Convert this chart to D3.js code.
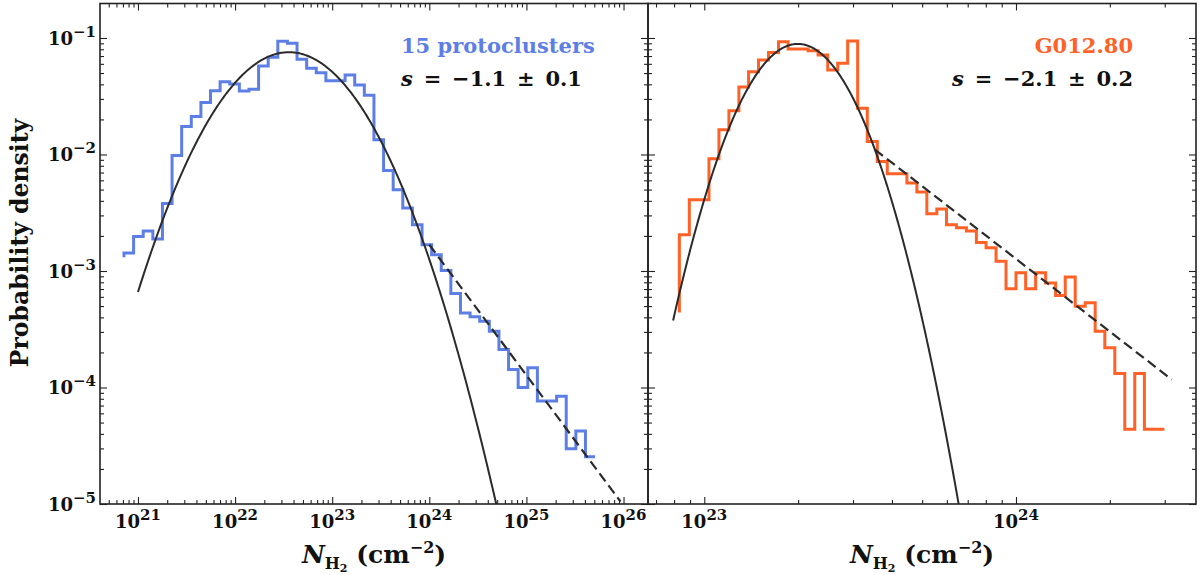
<!DOCTYPE html>
<html>
<head>
<meta charset="utf-8">
<script src="https://cdn.jsdelivr.net/npm/d3@7"></script>
<style>
  body { margin: 0; background: #fff; }
  svg { display: block; }
  text { font-family: "DejaVu Serif", serif; font-weight: bold; fill: #111; }
</style>
</head>
<body>
<div id="chart"></div>
<script>
// ── Data ──────────────────────────────────────────────────────────────────────
// histogram bin edges, log10 N(H2) [cm^-2]; drawn as 'pre' steps, so the first
// density is the level the outline starts from at the first edge
const leftEdgesLog = [
  20.856, 20.955, 21.054, 21.153, 21.252, 21.351, 21.450, 21.549, 21.648, 21.747,
  21.846, 21.945, 22.044, 22.143, 22.242, 22.341, 22.440, 22.539, 22.638, 22.737,
  22.836, 22.935, 23.034, 23.133, 23.232, 23.331, 23.430, 23.529, 23.628, 23.727,
  23.826, 23.925, 24.024, 24.123, 24.222, 24.321, 24.420, 24.519, 24.618, 24.717,
  24.816, 24.915, 25.014, 25.113, 25.212, 25.311, 25.410, 25.509, 25.608, 25.707
];
const leftDensity = [
  1.31e-3,
  1.43e-3, 1.98e-3, 2.20e-3, 1.88e-3, 3.80e-3, 9.80e-3, 1.74e-2, 2.12e-2, 2.79e-2, 3.53e-2,
  4.22e-2, 4.03e-2, 3.51e-2, 3.63e-2, 5.75e-2, 6.84e-2, 9.37e-2, 9.00e-2, 6.56e-2, 5.50e-2,
  5.04e-2, 4.30e-2, 4.30e-2, 4.82e-2, 3.95e-2, 3.23e-2, 1.34e-2, 7.30e-3, 4.99e-3, 3.47e-3,
  2.50e-3, 1.68e-3, 1.38e-3, 1.01e-3, 6.40e-4, 4.37e-4, 4.04e-4, 3.70e-4, 3.04e-4, 2.12e-4,
  1.43e-4, 1.00e-4, 1.48e-4, 7.65e-5, 7.65e-5, 8.40e-5, 2.98e-5, 4.23e-5, 2.55e-5
];
const rightEdgesLog = [
  22.920, 22.952, 22.984, 23.015, 23.047, 23.079, 23.111, 23.142, 23.174, 23.206,
  23.238, 23.269, 23.301, 23.333, 23.365, 23.396, 23.428, 23.460, 23.492, 23.523,
  23.555, 23.587, 23.619, 23.650, 23.682, 23.714, 23.746, 23.777, 23.809, 23.841,
  23.873, 23.904, 23.936, 23.968, 24.000, 24.031, 24.063, 24.095, 24.127, 24.158,
  24.190, 24.222, 24.254, 24.285, 24.317, 24.349, 24.381, 24.412, 24.444, 24.476
];
const rightDensity = [
  4.40e-4,
  2.05e-3, 4.09e-3, 4.09e-3, 9.18e-3, 1.63e-2, 2.37e-2, 3.80e-2, 5.14e-2, 6.48e-2, 7.50e-2,
  9.30e-2, 8.05e-2, 8.05e-2, 7.78e-2, 7.15e-2, 5.32e-2, 6.07e-2, 9.40e-2, 2.50e-2, 1.29e-2,
  8.70e-3, 6.84e-3, 6.84e-3, 5.69e-3, 4.77e-3, 3.10e-3, 3.40e-3, 2.50e-3, 2.35e-3, 2.20e-3,
  1.76e-3, 1.58e-3, 1.21e-3, 7.03e-4, 9.64e-4, 7.03e-4, 9.64e-4, 7.90e-4, 6.15e-4, 8.90e-4,
  4.99e-4, 5.33e-4, 3.04e-4, 2.19e-4, 1.32e-4, 4.38e-5, 1.32e-4, 4.38e-5, 4.38e-5
];

// log-normal fits: [peak density, mean log10 N, sigma (dex), from log N, to log N]
const leftFit = [0.0755, 22.555, 0.505, 21.0, 24.75];
const rightFit = [0.0889, 23.30, 0.121, 22.90, 23.86];

// power-law tails (dashed), end points
const leftTailN = [1.0e24, 9.3e25];
const leftTailP = [1.68e-3, 1.05e-5];
const rightTailN = [3.53e23, 3.16e24];
const rightTailP = [1.10e-2, 1.17e-4];

const leftXTickExp = [21, 22, 23, 24, 25, 26];
const rightXTickExp = [23, 24];
const yTickExp = [-5, -4, -3, -2, -1];

const sampleNames = ['15 protoclusters', 'G012.80'];
const slopeTexts = ['\u22121.1 \u00b1 0.1', '\u22122.1 \u00b1 0.2'];

// ── SVG setup ─────────────────────────────────────────────────────────────────
const width = 1200, height = 575;
const plotTop = 3.5, plotBottom = 504;

const svg = d3.select('#chart')
  .append('svg')
  .attr('width', width)
  .attr('height', height);

const defs = svg.append('defs');

const yScale = d3.scaleLog()
  .domain([1e-5, Math.pow(10, -0.704)])
  .range([plotBottom, plotTop]);

const panels = [
  {
    id: 'left',
    x: d3.scaleLog().domain([Math.pow(10, 20.609), Math.pow(10, 26.252)]).range([100, 648]),
    edges: leftEdgesLog, density: leftDensity, fit: leftFit,
    tailN: leftTailN, tailP: leftTailP, xTicks: leftXTickExp,
    color: 'rgb(93,127,229)', name: sampleNames[0], slope: slopeTexts[0],
    textX: 401, anchor: 'start'
  },
  {
    id: 'right',
    x: d3.scaleLog().domain([Math.pow(10, 22.8194), Math.pow(10, 24.5775)]).range([648, 1196]),
    edges: rightEdgesLog, density: rightDensity, fit: rightFit,
    tailN: rightTailN, tailP: rightTailP, xTicks: rightXTickExp,
    color: 'rgb(255,97,38)', name: sampleNames[1], slope: slopeTexts[1],
    textX: 1133, anchor: 'end'
  }
];

// ── Helpers ───────────────────────────────────────────────────────────────────
function minorTicks(domain) {
  const [a, b] = domain;
  const out = [];
  for (let e = Math.floor(Math.log10(a)); e <= Math.ceil(Math.log10(b)); e++) {
    for (let m = 2; m <= 9; m++) {
      const v = m * Math.pow(10, e);
      if (v > a * 1.001 && v < b * 0.999) out.push(v);
    }
  }
  return out;
}

function tickRow(axisFn, scale, values, size, transform) {
  svg.append('g')
    .attr('transform', transform)
    .attr('color', '#222')
    .call(axisFn(scale).tickValues(values).tickSize(-size).tickFormat(''))
    .call(g => g.select('.domain').remove())
    .call(g => g.selectAll('line').attr('stroke-width', 1.1));
}

function powerLabel(sel, exp) {
  sel.text('10');
  sel.append('tspan')
    .attr('dy', -8)
    .attr('font-size', 15)
    .text(exp < 0 ? '\u2212' + (-exp) : String(exp));
}

// ── Panels ────────────────────────────────────────────────────────────────────
const yMajor = yTickExp.map(e => Math.pow(10, e));
const yMinor = minorTicks(yScale.domain());

panels.forEach(p => {
  const [x0, x1] = p.x.range();

  defs.append('clipPath')
    .attr('id', 'clip-' + p.id)
    .append('rect')
    .attr('x', x0).attr('y', plotTop)
    .attr('width', x1 - x0).attr('height', plotBottom - plotTop);

  const plot = svg.append('g').attr('clip-path', `url(#clip-${p.id})`);

  // histogram outline
  const histPts = p.edges.map((e, i) => ({ n: Math.pow(10, e), v: p.density[i] }));
  plot.append('path')
    .datum(histPts)
    .attr('fill', 'none')
    .attr('stroke', p.color)
    .attr('stroke-width', 3)
    .attr('d', d3.line().curve(d3.curveStepBefore).x(d => p.x(d.n)).y(d => yScale(d.v)));

  // log-normal fit
  const [peak, mu, sig, from, to] = p.fit;
  const fitPts = d3.range(from, to + 1e-9, (to - from) / 300).map(l => ({
    n: Math.pow(10, l),
    v: peak * Math.exp(-((l - mu) * (l - mu)) / (2 * sig * sig))
  }));
  plot.append('path')
    .datum(fitPts)
    .attr('fill', 'none')
    .attr('stroke', '#2b2b2b')
    .attr('stroke-width', 2)
    .attr('d', d3.line().x(d => p.x(d.n)).y(d => yScale(d.v)));

  // power-law tail
  plot.append('path')
    .datum(p.tailN.map((n, i) => ({ n, v: p.tailP[i] })))
    .attr('fill', 'none')
    .attr('stroke', '#2b2b2b')
    .attr('stroke-width', 2.2)
    .attr('stroke-dasharray', '10,5')
    .attr('d', d3.line().x(d => p.x(d.n)).y(d => yScale(d.v)));

  // ticks on all four sides, pointing inwards
  const xMajor = p.xTicks.map(e => Math.pow(10, e));
  const xMinor = minorTicks(p.x.domain());
  tickRow(d3.axisBottom, p.x, xMajor, 7, `translate(0,${plotBottom})`);
  tickRow(d3.axisBottom, p.x, xMinor, 4, `translate(0,${plotBottom})`);
  tickRow(d3.axisTop, p.x, xMajor, 7, `translate(0,${plotTop})`);
  tickRow(d3.axisTop, p.x, xMinor, 4, `translate(0,${plotTop})`);
  tickRow(d3.axisLeft, yScale, yMajor, 7, `translate(${x0},0)`);
  tickRow(d3.axisLeft, yScale, yMinor, 4, `translate(${x0},0)`);
  tickRow(d3.axisRight, yScale, yMajor, 7, `translate(${x1},0)`);
  tickRow(d3.axisRight, yScale, yMinor, 4, `translate(${x1},0)`);

  // frame
  svg.append('rect')
    .attr('x', x0).attr('y', plotTop)
    .attr('width', x1 - x0).attr('height', plotBottom - plotTop)
    .attr('fill', 'none')
    .attr('stroke', '#222')
    .attr('stroke-width', 1.6);

  // x tick labels
  svg.append('g').selectAll('text')
    .data(xMajor)
    .join('text')
    .attr('x', d => p.x(d))
    .attr('y', 528)
    .attr('text-anchor', 'middle')
    .attr('font-size', 18)
    .each(function (d) { powerLabel(d3.select(this), Math.round(Math.log10(d))); });

  // x axis title
  const xt = svg.append('text')
    .attr('x', (x0 + x1) / 2)
    .attr('y', 563)
    .attr('text-anchor', 'middle')
    .attr('font-size', 25);
  xt.append('tspan').attr('font-style', 'italic').text('N');
  xt.append('tspan').attr('font-size', 16).attr('dy', 6).text('H');
  xt.append('tspan').attr('font-size', 11).attr('dy', 3).text('2');
  xt.append('tspan').attr('dy', -9).text(' (cm');
  xt.append('tspan').attr('font-size', 16).attr('dy', -10).text('\u22122');
  xt.append('tspan').attr('dy', 10).text(')');

  // annotations
  svg.append('text')
    .attr('x', p.textX)
    .attr('y', 53)
    .attr('text-anchor', p.anchor)
    .attr('font-size', 21)
    .style('fill', p.color)
    .text(p.name);

  const st = svg.append('text')
    .attr('x', p.textX)
    .attr('y', 86)
    .attr('text-anchor', p.anchor)
    .attr('font-size', 21)
    .attr('word-spacing', 3.5);
  st.append('tspan').attr('font-style', 'italic').text('s');
  st.append('tspan').text(' = ' + p.slope);
});

// ── Shared y axis labels ──────────────────────────────────────────────────────
svg.append('g').selectAll('text')
  .data(yMajor)
  .join('text')
  .attr('x', 96)
  .attr('y', d => yScale(d) + 7)
  .attr('text-anchor', 'end')
  .attr('font-size', 18)
  .each(function (d) { powerLabel(d3.select(this), Math.round(Math.log10(d))); });

svg.append('text')
  .attr('transform', 'translate(28,243) rotate(-90)')
  .attr('text-anchor', 'middle')
  .attr('font-size', 23.5)
  .text('Probability density');
</script>
</body>
</html>
